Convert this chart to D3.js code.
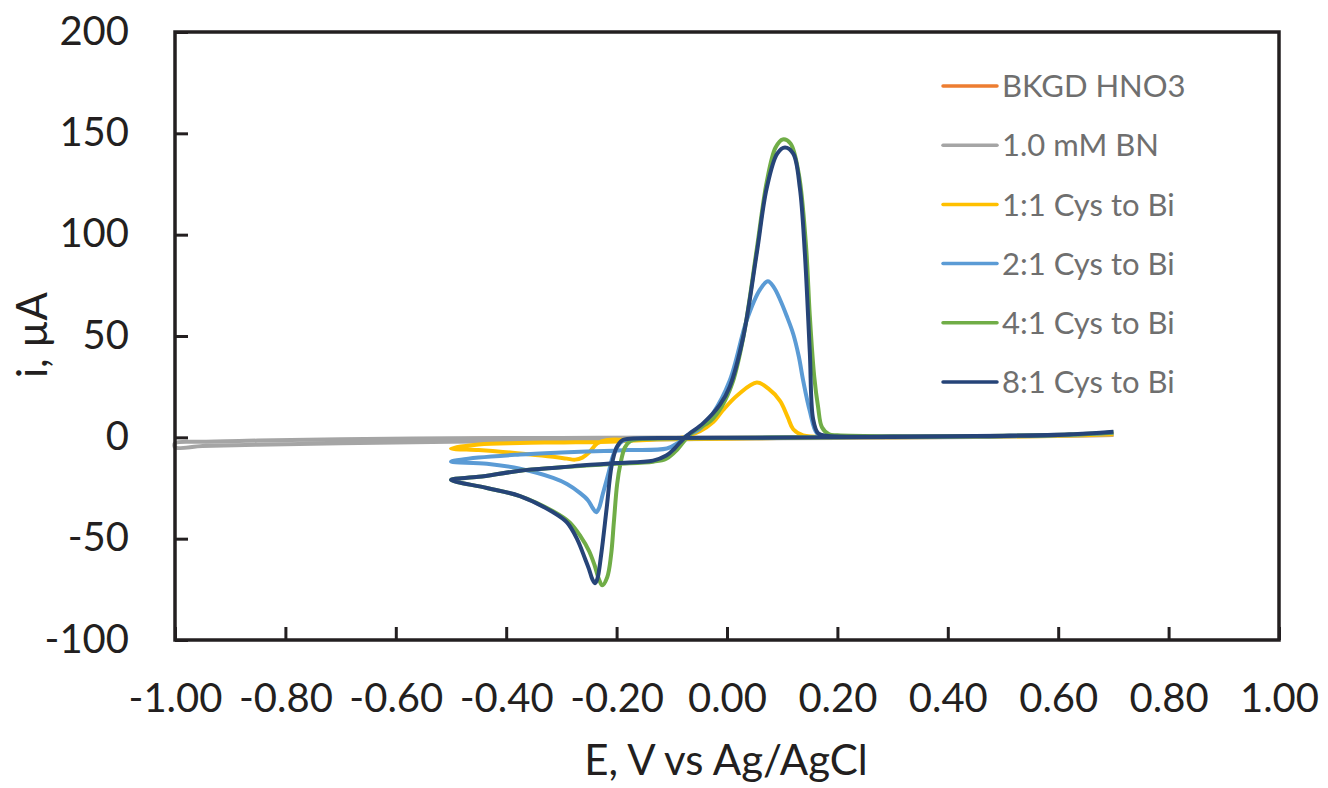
<!DOCTYPE html>
<html>
<head>
<meta charset="utf-8">
<script src="https://cdn.jsdelivr.net/npm/d3@7"></script>
<style>
  html, body { margin: 0; padding: 0; background: #fff; }
  svg { display: block; }
  text { font-family: Lato, "Open Sans", sans-serif; }
</style>
</head>
<body>
<svg id="chart" width="1328" height="788"></svg>
<script>
// ---------------- DATA ----------------
const xTicks = [-1.0, -0.8, -0.6, -0.4, -0.2, 0.0, 0.2, 0.4, 0.6, 0.8, 1.0];
const yTicks = [-100, -50, 0, 50, 100, 150, 200];
const seriesNames = ["BKGD HNO3", "1.0 mM BN", "1:1 Cys to Bi", "2:1 Cys to Bi", "4:1 Cys to Bi", "8:1 Cys to Bi"];
const seriesColors = ["#ED7D31", "#A5A5A5", "#FFC000", "#5B9BD5", "#70AD47", "#264478"];

// [E (V), i (µA)] — scanned from +0.70 V negative, then back positive
const bkgdHNO3 = [
  [0.70, 1.0], [0.55, 0.5], [0.40, 0.2], [0.10, 0.0], [-0.20, -0.3], [-0.50, -0.6],
  [-0.45, -1.2], [-0.20, -0.8], [0.10, -0.3], [0.40, 0.0], [0.55, 0.4], [0.70, 0.8]
];
const bn10mM = [
  [0.70, 1.5], [0.50, 0.5], [0.30, 0.2], [0.10, 0.0], [-0.10, -0.1], [-0.30, -0.3],
  [-0.50, -0.5], [-0.70, -1.0], [-0.85, -1.6], [-0.95, -2.2], [-1.00, -2.9],
  [-1.00, -4.9], [-0.95, -4.3], [-0.85, -3.6], [-0.70, -2.9], [-0.50, -2.2],
  [-0.30, -1.6], [-0.10, -1.0], [0.10, -0.5], [0.30, -0.2], [0.50, 0.3], [0.70, 1.2]
];
const cys1to1 = [
  [0.70, 1.5], [0.60, 0.7], [0.45, 0.3], [0.30, 0.1], [0.17, 0.0], [0.05, -0.5],
  [-0.10, -1.0], [-0.18, -1.2], [-0.217, -1.3], [-0.235, -3.0], [-0.25, -7.5],
  [-0.262, -10.0], [-0.275, -11.0], [-0.29, -10.5], [-0.315, -9.6], [-0.36, -8.3],
  [-0.406, -7.2], [-0.45, -6.3], [-0.50, -5.5],
  [-0.45, -3.5], [-0.375, -2.8], [-0.30, -2.5], [-0.20, -2.0], [-0.12, -1.0],
  [-0.08, 0.0], [-0.049, 3.0], [-0.025, 7.5], [-0.007, 13.5], [0.02, 21.0],
  [0.054, 27.0], [0.075, 24.0], [0.096, 18.0], [0.11, 10.0], [0.12, 4.0],
  [0.138, 1.0], [0.20, 0.3], [0.40, 0.3], [0.60, 0.8], [0.70, 1.5]
];
const cys2to1 = [
  [0.70, 2.2], [0.60, 1.0], [0.45, 0.4], [0.30, 0.2], [0.17, 0.0], [0.05, -0.3],
  [-0.10, -0.5], [-0.17, -0.8], [-0.19, -2.0], [-0.205, -8.0], [-0.215, -18.0],
  [-0.225, -28.0], [-0.232, -35.0], [-0.237, -37.0], [-0.243, -35.0], [-0.252, -31.0],
  [-0.266, -27.5], [-0.29, -23.0], [-0.315, -20.0], [-0.375, -15.5], [-0.435, -13.0],
  [-0.50, -12.0],
  [-0.45, -10.0], [-0.375, -8.5], [-0.30, -7.5], [-0.254, -7.0], [-0.18, -6.3],
  [-0.109, -5.5], [-0.09, -3.0], [-0.075, 0.5], [-0.05, 4.0], [-0.025, 12.0],
  [0.005, 28.0], [0.036, 58.0], [0.06, 73.0], [0.074, 77.0], [0.085, 74.0],
  [0.096, 68.0], [0.108, 60.0], [0.12, 51.0], [0.13, 40.0], [0.138, 28.0],
  [0.150, 13.0], [0.163, 2.0], [0.18, 0.5], [0.30, 0.3], [0.50, 0.7], [0.62, 1.2],
  [0.70, 2.2]
];
const cys4to1 = [
  [0.70, 2.4], [0.60, 1.1], [0.45, 0.5], [0.30, 0.2], [0.19, 0.1], [0.05, -0.2],
  [-0.10, -0.5], [-0.16, -1.0], [-0.175, -1.8], [-0.185, -5.0], [-0.193, -13.0],
  [-0.199, -23.0], [-0.205, -42.0], [-0.210, -58.0], [-0.217, -69.0], [-0.226, -73.0],
  [-0.232, -70.0], [-0.24, -63.0], [-0.25, -56.0], [-0.265, -49.0], [-0.285, -42.0],
  [-0.315, -36.5], [-0.375, -29.0], [-0.435, -25.0], [-0.50, -21.0],
  [-0.45, -19.5], [-0.375, -16.5], [-0.30, -14.8], [-0.254, -13.9], [-0.20, -13.0],
  [-0.134, -12.0], [-0.11, -10.5], [-0.09, -6.0], [-0.075, -1.0], [-0.06, 3.0],
  [-0.03, 8.0], [-0.01, 15.0], [0.01, 27.0], [0.03, 50.0], [0.054, 93.0],
  [0.072, 126.0], [0.088, 143.0], [0.101, 147.0], [0.115, 145.0], [0.13, 130.0],
  [0.143, 95.0], [0.150, 60.0], [0.158, 30.0], [0.165, 15.0], [0.172, 5.0],
  [0.185, 1.5], [0.20, 1.0], [0.30, 0.5], [0.50, 0.8], [0.62, 1.4], [0.70, 2.4]
];
const cys8to1 = [
  [0.70, 2.6], [0.60, 1.2], [0.45, 0.5], [0.30, 0.2], [0.17, 0.0], [0.05, -0.2],
  [-0.10, -0.3], [-0.17, -0.6], [-0.19, -1.5], [-0.200, -5.0], [-0.209, -14.0],
  [-0.218, -35.0], [-0.228, -58.0], [-0.235, -70.0], [-0.239, -72.0], [-0.244, -70.0],
  [-0.25, -65.0], [-0.257, -60.0], [-0.272, -50.0], [-0.29, -42.0], [-0.315, -37.0],
  [-0.375, -29.0], [-0.435, -25.0], [-0.50, -21.0],
  [-0.45, -19.5], [-0.375, -16.5], [-0.30, -14.8], [-0.254, -13.7], [-0.20, -12.7],
  [-0.134, -11.5], [-0.11, -9.0], [-0.095, -5.5], [-0.085, -2.5], [-0.072, 1.0],
  [-0.043, 7.0], [-0.013, 16.0], [0.005, 25.0], [0.029, 49.0], [0.054, 91.0],
  [0.072, 123.0], [0.091, 140.0], [0.105, 143.0], [0.120, 140.0], [0.132, 123.0],
  [0.141, 91.0], [0.150, 42.0], [0.156, 9.0], [0.165, 2.0], [0.18, 0.8],
  [0.30, 0.4], [0.50, 0.8], [0.62, 1.5], [0.70, 2.8]
];
const seriesData = [bkgdHNO3, bn10mM, cys1to1, cys2to1, cys4to1, cys8to1];

// ---------------- LAYOUT ----------------
const plot = { left: 175, right: 1279, top: 32, bottom: 640 };
const svg = d3.select("#chart");

const x = d3.scaleLinear().domain([-1, 1]).range([plot.left, plot.right]);
const y = d3.scaleLinear().domain([-100, 200]).range([plot.bottom, plot.top]);

// series lines
const line = d3.line()
  .x(d => x(d[0]))
  .y(d => y(d[1]))
  .curve(d3.curveCatmullRom.alpha(0.5));

svg.append("g").selectAll("path")
  .data(seriesData)
  .join("path")
  .attr("d", d => line(d))
  .attr("fill", "none")
  .attr("stroke", (d, i) => seriesColors[i])
  .attr("stroke-width", (d, i) => i === 0 ? 2.5 : 4)
  .attr("stroke-linejoin", "round")
  .attr("stroke-linecap", "butt");

// axes
const axisColor = "#231F20";
const xAxis = d3.axisBottom(x)
  .tickValues(xTicks)
  .tickSizeInner(-13)
  .tickSizeOuter(0)
  .tickPadding(44)
  .tickFormat(d => d.toFixed(2));
const gx = svg.append("g")
  .attr("transform", `translate(0,${plot.bottom})`)
  .call(xAxis);

const yAxis = d3.axisLeft(y)
  .tickValues(yTicks)
  .tickSizeInner(-13)
  .tickSizeOuter(0)
  .tickPadding(46)
  .tickFormat(d => String(d));
const gy = svg.append("g")
  .attr("transform", `translate(${plot.left},0)`)
  .call(yAxis);

[gx, gy].forEach(g => {
  g.select(".domain").remove();
  g.selectAll(".tick line").attr("stroke", axisColor).attr("stroke-width", 3);
  g.selectAll(".tick text")
    .attr("fill", axisColor)
    .style("font-family", "Lato, 'Open Sans', sans-serif")
    .style("font-size", "40px");
});
gy.selectAll(".tick text").attr("dy", "0.30em");

// frame
svg.append("rect")
  .attr("x", plot.left).attr("y", plot.top)
  .attr("width", plot.right - plot.left)
  .attr("height", plot.bottom - plot.top)
  .attr("fill", "none")
  .attr("stroke", axisColor)
  .attr("stroke-width", 3.5);

// axis titles
svg.append("text")
  .attr("x", (plot.left + plot.right) / 2 - 1)
  .attr("y", 775)
  .attr("text-anchor", "middle")
  .attr("fill", axisColor)
  .style("font-size", "42px")
  .text("E, V vs Ag/AgCl");

svg.append("text")
  .attr("transform", "translate(47,335) rotate(-90)")
  .attr("text-anchor", "middle")
  .attr("fill", axisColor)
  .style("font-size", "42px")
  .text("i, µA");

// legend
const legend = svg.append("g");
const legendRows = legend.selectAll("g")
  .data(seriesNames)
  .join("g")
  .attr("transform", (d, i) => `translate(943,${86 + i * 59.2})`);
legendRows.append("line")
  .attr("x1", 0).attr("x2", 54)
  .attr("stroke", (d, i) => seriesColors[i])
  .attr("stroke-width", 3.5)
  .attr("stroke-linecap", "round");
legendRows.append("text")
  .attr("x", 59)
  .attr("dy", "0.36em")
  .attr("fill", "#6F6F6F")
  .style("font-size", "31px")
  .text(d => d);
</script>
</body>
</html>
